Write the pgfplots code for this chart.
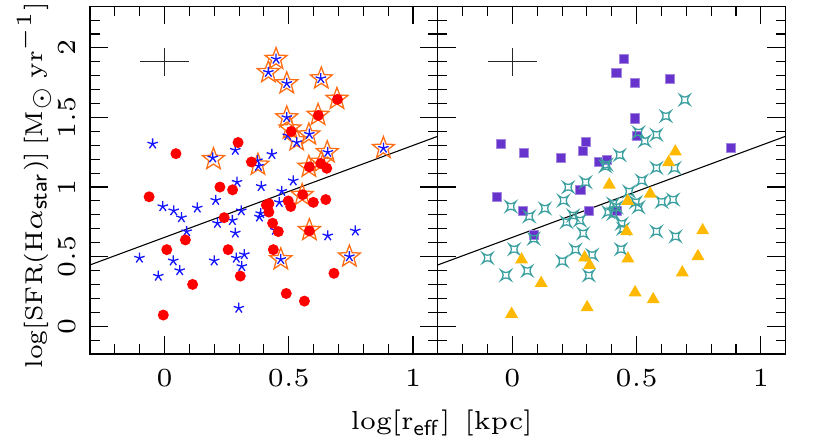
\documentclass[border=0pt]{standalone}
\usepackage{pgfplots}
\pgfplotsset{compat=1.18}
\definecolor{sfblue}{RGB}{20,20,255}
\definecolor{sfred}{RGB}{255,0,0}
\definecolor{sforange}{RGB}{255,110,20}
\definecolor{sfpurple}{RGB}{102,51,204}
\definecolor{sfgold}{RGB}{255,185,0}
\definecolor{sfteal}{RGB}{60,160,160}

\pgfdeclareplotmark{ostar}{%
  \pgfpathmoveto{\pgfqpointpolar{90}{\pgfplotmarksize}}%
  \pgfpathlineto{\pgfqpointpolar{126}{0.42\pgfplotmarksize}}%
  \pgfpathlineto{\pgfqpointpolar{162}{\pgfplotmarksize}}%
  \pgfpathlineto{\pgfqpointpolar{198}{0.42\pgfplotmarksize}}%
  \pgfpathlineto{\pgfqpointpolar{234}{\pgfplotmarksize}}%
  \pgfpathlineto{\pgfqpointpolar{270}{0.42\pgfplotmarksize}}%
  \pgfpathlineto{\pgfqpointpolar{306}{\pgfplotmarksize}}%
  \pgfpathlineto{\pgfqpointpolar{342}{0.42\pgfplotmarksize}}%
  \pgfpathlineto{\pgfqpointpolar{18}{\pgfplotmarksize}}%
  \pgfpathlineto{\pgfqpointpolar{54}{0.42\pgfplotmarksize}}%
  \pgfpathclose
  \pgfusepathqstroke}

\pgfdeclareplotmark{qstar}{%
  \pgfpathmoveto{\pgfqpoint{\pgfplotmarksize}{\pgfplotmarksize}}%
  \pgfpathcurveto{\pgfqpoint{0.3\pgfplotmarksize}{0.4\pgfplotmarksize}}{\pgfqpoint{-0.3\pgfplotmarksize}{0.4\pgfplotmarksize}}{\pgfqpoint{-\pgfplotmarksize}{\pgfplotmarksize}}%
  \pgfpathcurveto{\pgfqpoint{-0.4\pgfplotmarksize}{0.3\pgfplotmarksize}}{\pgfqpoint{-0.4\pgfplotmarksize}{-0.3\pgfplotmarksize}}{\pgfqpoint{-\pgfplotmarksize}{-\pgfplotmarksize}}%
  \pgfpathcurveto{\pgfqpoint{-0.3\pgfplotmarksize}{-0.4\pgfplotmarksize}}{\pgfqpoint{0.3\pgfplotmarksize}{-0.4\pgfplotmarksize}}{\pgfqpoint{\pgfplotmarksize}{-\pgfplotmarksize}}%
  \pgfpathcurveto{\pgfqpoint{0.4\pgfplotmarksize}{-0.3\pgfplotmarksize}}{\pgfqpoint{0.4\pgfplotmarksize}{0.3\pgfplotmarksize}}{\pgfqpoint{\pgfplotmarksize}{\pgfplotmarksize}}%
  \pgfpathclose
  \pgfusepathqstroke}

\pgfplotsset{
  panel/.style={
    scale only axis, width=80pt, height=80pt,
    xmin=-0.3, xmax=1.1, ymin=-0.2, ymax=2.3,
    xtick={0,0.5,1}, ytick={0,0.5,1,1.5,2},
    minor xtick={-0.2,-0.1,0.1,0.2,0.3,0.4,0.6,0.7,0.8,0.9},
    minor ytick={-0.1,0.1,0.2,0.3,0.4,0.6,0.7,0.8,0.9,1.1,1.2,1.3,1.4,1.6,1.7,1.8,1.9,2.1,2.2},
    tick align=inside,
    major tick length=4.2pt, minor tick length=2.2pt,
    every tick/.style={line width=0.25pt, black},
    axis line style={line width=0.3pt},
    ticklabel style={font=\fontsize{6}{7}\selectfont},
    xticklabel style={anchor=north, inner ysep=3.5pt},
    yticklabel style={rotate=90, anchor=south, inner ysep=3.2pt},
    label style={font=\fontsize{6}{7}\selectfont},
  }
}

\begin{document}
\begin{tikzpicture}
\begin{axis}[panel, at={(0pt,0pt)}, anchor=south west,
  ylabel={log[SFR(H$\alpha_{\mathsf{star}}$)]\hspace{0.25em}[M$_{\odot}$\hspace{0.25em}yr$^{-1}$]},
  ylabel style={at={(axis description cs:-0.161,0.485)}, anchor=center, font=\fontsize{5.6}{7}\selectfont},
]
\addplot[black, line width=0.25pt] coordinates {(-0.3,0.44) (1.1,1.365)};
\addplot[black!85, line width=0.25pt] coordinates {(-0.1,1.9) (0.1,1.9)};
\addplot[black!85, line width=0.25pt] coordinates {(0,1.8) (0,2.0)};
% orange open stars
\addplot[only marks, mark=ostar, mark size=2.65pt, sforange, line width=0.3pt] coordinates {
(0.197,1.20) (0.376,1.16) (0.418,1.825) (0.449,1.92) (0.492,1.745)
(0.631,1.78) (0.694,1.633) (0.492,1.50) (0.618,1.518) (0.505,1.42)
(0.532,1.335) (0.581,1.377) (0.655,1.25) (0.581,1.145) (0.631,1.18)
(0.554,0.942) (0.583,0.69) (0.468,0.48) (0.744,0.50) (0.881,1.28)
};
% blue asterisks
\addplot[only marks, mark=star, mark size=1.25pt, sfblue, line width=0.3pt] coordinates {
(-0.048,1.31) (-0.101,0.49) (-0.025,0.36) (-0.007,0.86) (0.037,0.83)
(0.035,0.47) (0.068,0.78) (0.061,0.40) (0.089,0.68) (0.132,0.85)
(0.194,1.21) (0.206,0.905) (0.213,0.74) (0.200,0.47) (0.273,0.76)
(0.285,1.265) (0.292,1.035) (0.285,0.67) (0.289,0.49) (0.321,0.515)
(0.309,0.83) (0.311,0.43) (0.299,0.13) (0.374,1.19) (0.378,1.15)
(0.389,1.005) (0.387,0.81) (0.382,0.785) (0.432,1.235) (0.418,1.825)
(0.449,1.92) (0.492,1.745) (0.462,0.89) (0.472,0.97) (0.468,0.48)
(0.446,0.69) (0.492,1.50) (0.496,1.37) (0.518,1.045) (0.532,1.32)
(0.583,1.38) (0.629,1.78) (0.657,1.25) (0.657,0.65) (0.744,0.50)
(0.768,0.685) (0.881,1.28)
};
% red filled circles
\addplot[only marks, mark=*, mark size=1.05pt, sfred, mark options={fill=sfred, draw=sfred}] coordinates {
(-0.005,0.08) (-0.062,0.93) (0.046,1.24) (0.009,0.55) (0.084,0.62)
(0.113,0.30) (0.223,1.00) (0.240,0.78) (0.256,0.55) (0.274,0.98)
(0.296,1.32) (0.305,0.36) (0.350,1.18) (0.410,0.87) (0.420,0.88)
(0.420,0.82) (0.435,0.74) (0.458,0.68) (0.438,0.55) (0.490,0.235)
(0.498,0.90) (0.508,0.86) (0.510,1.40) (0.556,0.945) (0.563,0.18)
(0.583,1.145) (0.583,0.685) (0.599,0.89) (0.619,1.515) (0.629,1.17)
(0.653,1.135) (0.649,0.91) (0.682,0.38) (0.696,1.63)
};
\end{axis}
\begin{axis}[panel, at={(80pt,0pt)}, anchor=south west, yticklabels={}]
\addplot[black, line width=0.25pt] coordinates {(-0.3,0.44) (1.1,1.365)};
\addplot[black!85, line width=0.25pt] coordinates {(-0.1,1.9) (0.1,1.9)};
\addplot[black!85, line width=0.25pt] coordinates {(0,1.8) (0,2.0)};
% purple squares
\addplot[only marks, mark=square*, mark size=1.04pt, mark options={fill=sfpurple, draw=sfpurple!60!white, line width=0.2pt}] coordinates {
(0.450,1.918) (0.419,1.82) (0.494,1.746) (0.633,1.775) (0.494,1.493)
(0.500,1.369) (-0.046,1.31) (0.046,1.242) (0.195,1.209) (0.297,1.321)
(0.285,1.261) (0.347,1.178) (0.380,1.197) (0.880,1.28) (-0.061,0.93)
(0.274,0.982) (0.042,0.827) (0.309,0.827) (0.088,0.658) (0.422,0.825)
};
% teal four-point stars
\addplot[only marks, mark=qstar, mark size=1.15pt, sfteal, line width=0.3pt] coordinates {
(0.694,1.627) (0.618,1.51) (0.580,1.376) (0.508,1.393) (0.533,1.331)
(0.432,1.23) (0.379,1.161) (0.374,1.149) (0.580,1.137) (0.653,1.137)
(0.521,1.047) (0.295,1.035) (0.225,0.999) (0.470,0.968) (0.206,0.903)
(-0.006,0.86) (0.131,0.846) (0.068,0.789) (0.601,0.894) (0.647,0.91)
(0.497,0.891) (0.508,0.855) (0.406,0.88) (0.419,0.855) (0.386,0.82)
(0.406,0.808) (0.440,0.736) (0.446,0.70) (0.245,0.796) (0.218,0.748)
(0.272,0.76) (0.285,0.667) (0.580,0.681) (0.657,0.645) (0.086,0.629)
(0.007,0.553) (0.254,0.55) (0.437,0.553) (-0.100,0.49) (0.321,0.512)
(0.201,0.467) (0.060,0.398) (-0.026,0.366) (0.308,0.365)
};
% gold triangles
\addplot[only marks, mark=triangle*, mark size=1.33pt, mark options={fill=sfgold, draw=sfgold}] coordinates {
(0.656,1.254) (0.629,1.178) (0.390,1.016) (0.555,0.951) (0.464,0.898)
(0.460,0.681) (0.766,0.688) (0.037,0.478) (0.291,0.493) (0.311,0.438)
(0.465,0.485) (0.747,0.502) (0.684,0.385) (0.116,0.309) (0.494,0.242)
(0.567,0.192) (-0.003,0.087) (0.301,0.135)
};
\end{axis}
\node[anchor=base, font=\fontsize{6}{7}\selectfont, inner sep=0pt] at (80.9pt,-17.4pt) {log[r$_{\mathsf{eff}}$]\hspace{0.55em}[kpc]};
\pgfresetboundingbox
\path (-20.7pt,-20.47pt) rectangle (170.2pt,81.42pt);
\end{tikzpicture}
\end{document}
